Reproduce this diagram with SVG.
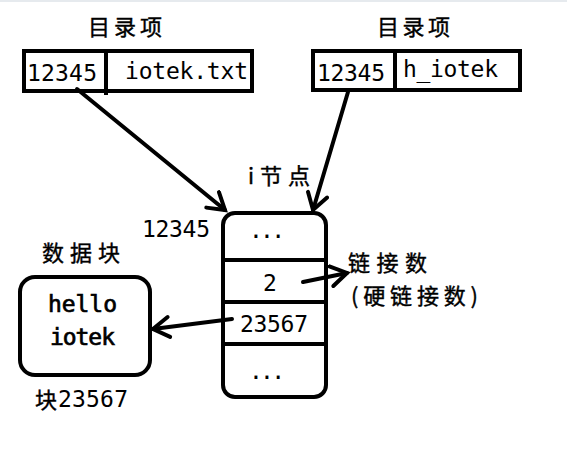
<svg xmlns="http://www.w3.org/2000/svg" width="567" height="468" viewBox="0 0 567 468">
<style>
.box{fill:none;stroke:#000;stroke-width:4}
.ln{fill:none;stroke:#000;stroke-width:4;stroke-linecap:round}
.m{font-family:"DejaVu Sans Mono","Liberation Mono",monospace;font-size:23px;fill:#000}
.b{stroke:#000;stroke-width:0.7}
.c{font-family:"Noto Sans CJK SC","Noto Sans",sans-serif;font-size:22px;fill:#000;stroke:#000;stroke-width:0.4}
</style>
<defs>
<marker id="ah" markerUnits="userSpaceOnUse" markerWidth="26" markerHeight="26" refX="19" refY="12" orient="auto">
<path d="M3,2 L19,12 L3,22" fill="none" stroke="#000" stroke-width="4" stroke-linecap="round" stroke-linejoin="miter"/>
</marker>
</defs>
<rect x="0" y="0" width="567" height="2" fill="#e6eaee"/>
<g id="dir1">
<text class="c" x="88" y="35" textLength="74">目录项</text>
<rect class="box" x="24" y="51" width="228" height="40"/>
<line class="ln" x1="106" y1="51" x2="106" y2="95" style="stroke-linecap:butt"/>
<text class="m" x="27" y="81" textLength="70">12345</text>
<text class="m" x="125" y="79" textLength="123">iotek.txt</text>
</g>
<g id="dir2">
<text class="c" x="377" y="35" textLength="73">目录项</text>
<rect class="box" x="313" y="51" width="207" height="39"/>
<line class="ln" x1="395" y1="51" x2="395" y2="91" style="stroke-linecap:butt"/>
<text class="m" x="317" y="81" textLength="68">12345</text>
<text class="m" x="403" y="77" textLength="95">h_iotek</text>
</g>
<g id="inode">
<text class="c" x="248" y="184" textLength="62">i节点</text>
<text class="m" x="142" y="237" textLength="68">12345</text>
<rect class="box" x="223" y="213" width="103" height="184" rx="12" ry="12"/>
<line class="ln" x1="223" y1="260" x2="327" y2="260" style="stroke-linecap:butt"/>
<line class="ln" x1="223" y1="302" x2="328" y2="302" style="stroke-linecap:butt"/>
<line class="ln" x1="223" y1="344" x2="328" y2="344" style="stroke-linecap:butt"/>
<text class="m" x="249" y="238" textLength="36">...</text>
<text class="m" x="263" y="291">2</text>
<text class="m" x="240" y="332" textLength="68">23567</text>
<text class="m" x="249" y="379" textLength="36">...</text>
</g>
<g id="linkcount">
<text class="c" x="348" y="271" textLength="79">链接数</text>
<text class="c" x="351" y="304" textLength="127">(硬链接数)</text>
</g>
<g id="datablock">
<text class="c" x="42" y="261" textLength="78">数据块</text>
<rect class="box" x="20" y="277" width="130" height="98" rx="15" ry="15"/>
<text class="m b" x="48" y="312" textLength="69">hello</text>
<text class="m b" x="50" y="345" textLength="65">iotek</text>
<text class="c" x="35" y="408">块</text>
<text class="m" x="58" y="407" textLength="70">23567</text>
</g>
<g id="connectors">
<line class="ln" x1="77" y1="89" x2="225" y2="210" marker-end="url(#ah)"/>
<line class="ln" x1="348" y1="92" x2="313" y2="210" marker-end="url(#ah)"/>
<line class="ln" x1="303" y1="282" x2="347" y2="273" marker-end="url(#ah)"/>
<line class="ln" x1="232" y1="319" x2="153" y2="329" marker-end="url(#ah)"/>
</g>
</svg>
